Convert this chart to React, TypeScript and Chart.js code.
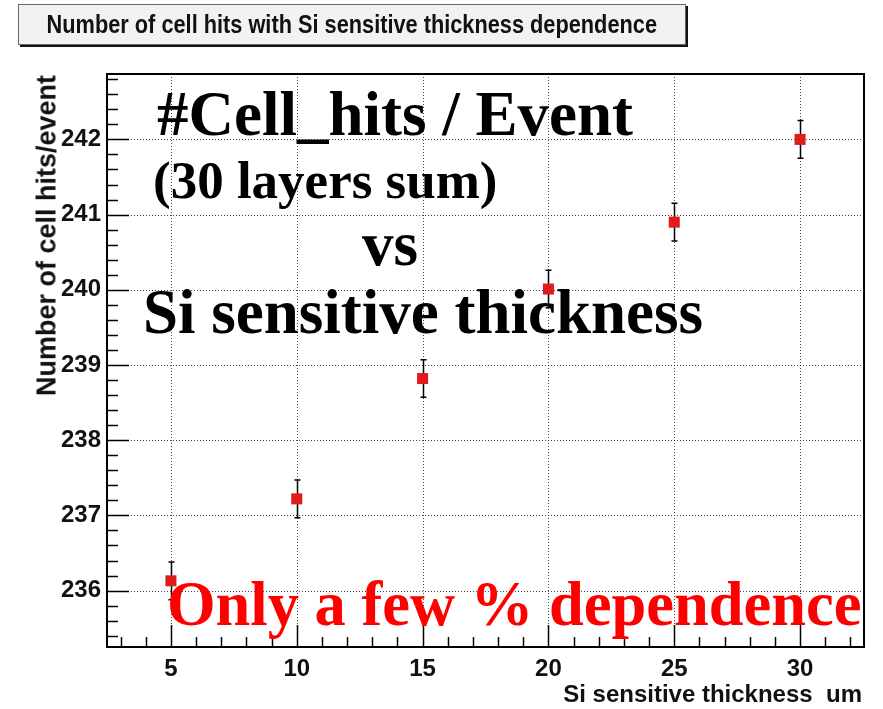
import React, { useEffect, useRef } from "react";
import { Chart, registerables } from "chart.js";

Chart.register(...registerables);

// ---- data ----
const thickness = [5, 10, 15, 20, 25, 30];
const cellHits = [236.13, 237.22, 238.82, 240.01, 240.9, 242.0];
const cellHitErrors = [0.25, 0.25, 0.25, 0.25, 0.25, 0.25];

// ---- axes ----
const xTickValues = [5, 10, 15, 20, 25, 30];
const yTickValues = [236, 237, 238, 239, 240, 241, 242];
const xRange = [2.46, 32.54];
const yRange = [235.25, 242.87];
const xMinorStep = 1;
const yMinorStep = 0.2;

const titleText = "Number of cell hits with Si sensitive thickness dependence";
const xTitle = "Si sensitive thickness  um";
const yTitle = "Number of cell hits/event";

const framePlugin = {
  id: "rootFrame",
  beforeDatasetsDraw(chart: any) {
    const { ctx, chartArea, scales } = chart;
    const { left, right, top, bottom } = chartArea;
    const x = scales.x;
    const y = scales.y;
    ctx.save();
    // dotted grid
    ctx.strokeStyle = "rgba(40,40,40,0.85)";
    ctx.lineWidth = 1;
    ctx.setLineDash([1, 2]);
    xTickValues.forEach((v) => {
      const px = Math.round(x.getPixelForValue(v)) + 0.5;
      ctx.beginPath();
      ctx.moveTo(px, top);
      ctx.lineTo(px, bottom);
      ctx.stroke();
    });
    yTickValues.forEach((v) => {
      const py = Math.round(y.getPixelForValue(v)) + 0.5;
      ctx.beginPath();
      ctx.moveTo(left, py);
      ctx.lineTo(right, py);
      ctx.stroke();
    });
    ctx.setLineDash([]);
    // ticks (inside)
    ctx.strokeStyle = "#000";
    ctx.lineWidth = 1.5;
    const xs = Math.ceil(xRange[0] / xMinorStep);
    const xe = Math.floor(xRange[1] / xMinorStep);
    for (let k = xs; k <= xe; k++) {
      const v = k * xMinorStep;
      const major = xTickValues.indexOf(v) >= 0;
      const px = Math.round(x.getPixelForValue(v)) + 0.5;
      ctx.beginPath();
      ctx.moveTo(px, bottom);
      ctx.lineTo(px, bottom - (major ? 22 : 10));
      ctx.stroke();
    }
    const ys = Math.ceil(yRange[0] / yMinorStep - 1e-6);
    const ye = Math.floor(yRange[1] / yMinorStep + 1e-6);
    for (let k = ys; k <= ye; k++) {
      const v = k * yMinorStep;
      const major = yTickValues.some((t) => Math.abs(t - v) < 1e-6);
      const py = Math.round(y.getPixelForValue(v)) + 0.5;
      ctx.beginPath();
      ctx.moveTo(left, py);
      ctx.lineTo(left + (major ? 22 : 11), py);
      ctx.stroke();
    }
    // frame
    ctx.lineWidth = 2;
    ctx.strokeRect(left, top, right - left, bottom - top);
    // error bars
    ctx.lineWidth = 1.5;
    thickness.forEach((t, i) => {
      const px = Math.round(x.getPixelForValue(t)) + 0.5;
      const p1 = y.getPixelForValue(cellHits[i] - cellHitErrors[i]);
      const p2 = y.getPixelForValue(cellHits[i] + cellHitErrors[i]);
      ctx.beginPath();
      ctx.moveTo(px, p1);
      ctx.lineTo(px, p2);
      ctx.moveTo(px - 3, p1);
      ctx.lineTo(px + 3, p1);
      ctx.moveTo(px - 3, p2);
      ctx.lineTo(px + 3, p2);
      ctx.stroke();
    });
    ctx.restore();
  },
};

const serif = "'Liberation Serif', 'Times New Roman', serif";
const sans = "'Liberation Sans', Arial, Helvetica, sans-serif";

function Overlay({ text, left, top, size, color }: any) {
  return (
    <div
      style={{
        position: "absolute",
        left,
        top,
        fontFamily: serif,
        fontWeight: "bold",
        fontSize: size,
        lineHeight: `${size}px`,
        color,
        whiteSpace: "nowrap",
      }}
    >
      {text}
    </div>
  );
}

export default function App() {
  const ref = useRef<HTMLCanvasElement>(null);
  useEffect(() => {
    if (!ref.current) return;
    const chart = new Chart(ref.current, {
      type: "scatter",
      data: {
        datasets: [
          {
            data: thickness.map((t, i) => ({ x: t, y: cellHits[i] })),
            pointStyle: "rect",
            pointRadius: 7.8,
            backgroundColor: "#e01b1b",
            borderColor: "#e01b1b",
            borderWidth: 0,
            showLine: false,
          } as any,
        ],
      },
      options: {
        animation: false,
        responsive: false,
        maintainAspectRatio: false,
        layout: { padding: { left: 0, right: 19, top: 74, bottom: 0 } },
        plugins: {
          legend: { display: false },
          tooltip: { enabled: false },
          title: { display: false },
        },
        scales: {
          x: {
            type: "linear",
            min: xRange[0],
            max: xRange[1],
            afterBuildTicks: (s: any) => {
              s.ticks = xTickValues.map((v) => ({ value: v }));
            },
            afterFit: (s: any) => {
              s.height = 62;
            },
            grid: { display: false, drawTicks: false, tickLength: 0 },
            border: { display: false },
            ticks: {
              color: "#111",
              padding: 8,
              maxRotation: 0,
              autoSkip: false,
              font: { family: sans, size: 24, weight: "bold" },
            },
          },
          y: {
            type: "linear",
            min: yRange[0],
            max: yRange[1],
            afterBuildTicks: (s: any) => {
              s.ticks = yTickValues.map((v) => ({ value: v }));
            },
            afterFit: (s: any) => {
              s.width = 107;
            },
            grid: { display: false, drawTicks: false, tickLength: 0 },
            border: { display: false },
            ticks: {
              color: "#111",
              padding: 6,
              autoSkip: false,
              font: { family: sans, size: 24, weight: "bold" },
            },
          },
        },
      } as any,
      plugins: [framePlugin],
    });
    return () => chart.destroy();
  }, []);

  return (
    <div
      style={{
        position: "absolute",
        left: 0,
        top: 0,
        width: 883,
        height: 709,
        background: "#fff",
        overflow: "hidden",
      }}
    >
      <canvas ref={ref} width={883} height={709} style={{ position: "absolute", left: 0, top: 0 }} />
      {/* title box */}
      <div
        style={{
          position: "absolute",
          left: 18,
          top: 4,
          width: 666,
          height: 39,
          background: "#f2f2f2",
          border: "1px solid #666",
          boxShadow: "2px 2px 0 #111",
          display: "flex",
          alignItems: "center",
          justifyContent: "center",
        }}
      >
        <span
          style={{
            display: "inline-block",
            fontFamily: sans,
            fontWeight: "bold",
            fontSize: 25,
            color: "#111",
            whiteSpace: "nowrap",
            transform: "scaleX(0.87)",
          }}
        >
          {titleText}
        </span>
      </div>
      {/* y title */}
      <div
        style={{
          position: "absolute",
          left: 47,
          top: 75,
          transformOrigin: "0 0",
          transform: "rotate(-90deg) translate(-100%, -50%)",
          fontFamily: sans,
          fontWeight: "bold",
          fontSize: 27,
          lineHeight: "27px",
          color: "#111",
          whiteSpace: "nowrap",
        }}
      >
        {yTitle}
      </div>
      {/* x title */}
      <div
        style={{
          position: "absolute",
          left: 0,
          width: 862,
          top: 682,
          textAlign: "right",
          fontFamily: sans,
          fontWeight: "bold",
          fontSize: 24,
          lineHeight: "24px",
          color: "#111",
          whiteSpace: "pre",
        }}
      >
        {xTitle}
      </div>
      <Overlay text="#Cell_hits / Event" left={157} top={83} size={63} color="#000" />
      <Overlay text="(30 layers sum)" left={153} top={154} size={53} color="#000" />
      <Overlay text="vs" left={362} top={213} size={63} color="#000" />
      <Overlay text="Si sensitive thickness" left={143} top={281} size={63} color="#000" />
      <Overlay text="Only a few % dependence" left={167} top={573} size={62.5} color="#ff0000" />
    </div>
  );
}
